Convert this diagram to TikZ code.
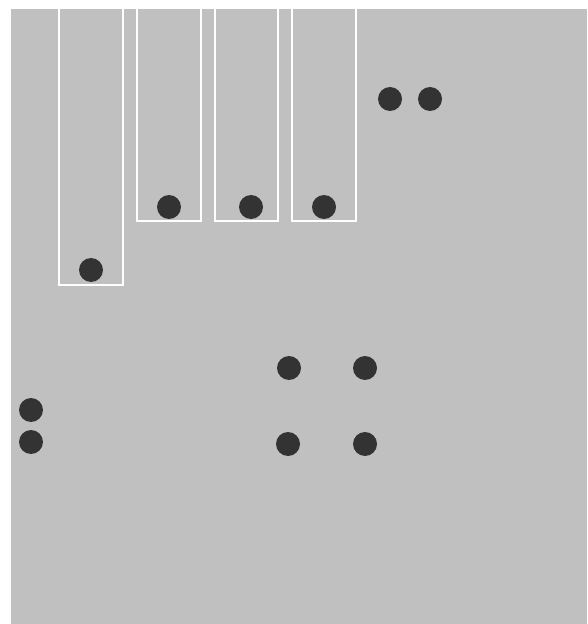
\documentclass[tikz,border=0pt]{standalone}
\usepackage{tikz}
\usepackage{xcolor}
\definecolor{boardgray}{RGB}{192,192,192}
\definecolor{tokendark}{RGB}{51,51,51}

\tikzset{
    token/.style={circle, fill=tokendark, minimum size=0.48cm, inner sep=0pt},
    slot/.style={draw=white, line width=1.2pt}
}

\begin{document}
\begin{tikzpicture}[x=0.02cm, y=-0.02cm]
    \useasboundingbox (0,0) rectangle (587,624);

    % Board
    \fill[boardgray] (11,9) rectangle (587,624);

    % Slots (open at the top)
    \begin{scope}
        \clip (11,9) rectangle (587,624);
        \draw[slot] (59,0) rectangle (123,285);
        \draw[slot] (137,0) rectangle (201,221);
        \draw[slot] (215,0) rectangle (278,221);
        \draw[slot] (292,0) rectangle (356,221);
    \end{scope}

    % Tokens in slots
    \node[token] (slotA) at (91,270) {};
    \node[token] (slotB) at (169,207) {};
    \node[token] (slotC) at (251,207) {};
    \node[token] (slotD) at (324,207) {};

    % Top right pair
    \node[token] (topL) at (390,99) {};
    \node[token] (topR) at (430,99) {};

    % Middle square
    \node[token] (midNW) at (289,368) {};
    \node[token] (midNE) at (365,368) {};
    \node[token] (midSW) at (288,444) {};
    \node[token] (midSE) at (365,444) {};

    % Left edge pair
    \node[token] (edgeT) at (31,410) {};
    \node[token] (edgeB) at (31,442) {};
\end{tikzpicture}
\end{document}
